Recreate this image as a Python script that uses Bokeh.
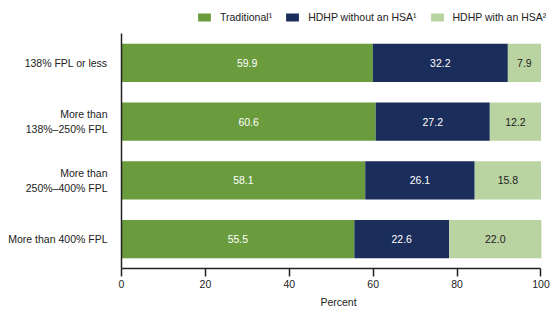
from bokeh.plotting import figure
from bokeh.models import ColumnDataSource, Legend, LegendItem, Range1d, LabelSet, FixedTicker
from bokeh.core.properties import value
from bokeh.embed import file_html
from bokeh.resources import INLINE

categories = ["138% FPL or less", "More than\n138%–250% FPL", "More than\n250%–400% FPL", "More than 400% FPL"]
traditional = [59.9, 60.6, 58.1, 55.5]
hdhp_no_hsa = [32.2, 27.2, 26.1, 22.6]
hdhp_hsa = [7.9, 12.2, 15.8, 22.0]
series_keys = ["traditional", "hdhp_no_hsa", "hdhp_hsa"]
series_names = ["Traditional¹", "HDHP without an HSA¹", "HDHP with an HSA²"]
colors = ["#6a9c3e", "#1b2d5b", "#b9d3a1"]
label_colors = ["white", "white", "#222222"]
x_ticks = [0, 20, 40, 60, 80, 100]
x_label = "Percent"

FONT = "Liberation Sans"

n = len(categories)
ypos = [n - 1 - i for i in range(n)]  # first category on top

data = dict(y=ypos, traditional=traditional, hdhp_no_hsa=hdhp_no_hsa, hdhp_hsa=hdhp_hsa)
source = ColumnDataSource(data)

# frame extends above the bars and right of 100 so the legend fits inside it
p = figure(width=560, height=322, y_range=Range1d(-0.5, n - 0.5 + 0.5617),
           x_range=Range1d(0, 103.46), output_backend="svg", toolbar_location=None,
           min_border_left=121, min_border_right=5, min_border_top=0, min_border_bottom=54)

renderers = p.hbar_stack(series_keys, y="y", height=0.65, color=colors, line_color=None, source=source)

# value labels at segment centers
cols = [traditional, hdhp_no_hsa, hdhp_hsa]
left = [0.0] * n
for vals, lc in zip(cols, label_colors):
    centers = [l + v / 2 for l, v in zip(left, vals)]
    lsrc = ColumnDataSource(dict(x=centers, y=ypos, t=[f"{v:.1f}" for v in vals]))
    p.add_layout(LabelSet(x="x", y="y", text="t", source=lsrc, text_align="center",
                          text_baseline="middle", text_color=lc, text_font=value(FONT),
                          text_font_size="10.5px"))
    left = [l + v for l, v in zip(left, vals)]

p.outline_line_color = None
p.xgrid.grid_line_color = None
p.ygrid.grid_line_color = None

p.xaxis.ticker = FixedTicker(ticks=x_ticks)
p.xaxis.bounds = (0, 100)
p.xaxis.axis_label = x_label
p.xaxis.axis_label_text_font = FONT
p.xaxis.axis_label_text_font_style = "normal"
p.xaxis.axis_label_text_font_size = "10.5px"
p.xaxis.axis_label_text_color = "#222222"
p.xaxis.axis_label_standoff = 5
p.xaxis.major_label_text_font = FONT
p.xaxis.major_label_text_font_size = "10.5px"
p.xaxis.major_label_text_color = "#222222"
p.xaxis.major_label_standoff = 3
p.xaxis.major_tick_out = 8
p.xaxis.major_tick_in = 0
p.xaxis.minor_tick_line_color = None
p.xaxis.axis_line_color = "#222222"
p.xaxis.axis_line_width = 1.5
p.xaxis.major_tick_line_color = "#222222"
p.xaxis.major_tick_line_width = 1.5

p.yaxis.ticker = FixedTicker(ticks=ypos)
p.yaxis.major_label_overrides = {y: c for y, c in zip(ypos, categories)}
p.yaxis.bounds = (-0.5, n - 0.5)
p.yaxis.major_label_text_font = FONT
p.yaxis.major_label_text_font_size = "10.5px"
p.yaxis.major_label_text_color = "#222222"
p.yaxis.major_label_standoff = 8
p.yaxis.major_tick_line_color = None
p.yaxis.minor_tick_line_color = None
p.yaxis.axis_line_color = "#222222"
p.yaxis.axis_line_width = 1.5

items = [LegendItem(label=nm, renderers=[r]) for nm, r in zip(series_names, renderers)]
legend = Legend(items=items, location=(75, 245), orientation="horizontal",
                glyph_width=16, glyph_height=10, label_height=10, label_standoff=8,
                spacing=12, padding=0, margin=0, border_line_color=None,
                background_fill_alpha=0, label_text_font=FONT, label_text_font_size="10.5px",
                label_text_color="#222222")
p.add_layout(legend)

open("out.html", "w").write(file_html(p, INLINE))
